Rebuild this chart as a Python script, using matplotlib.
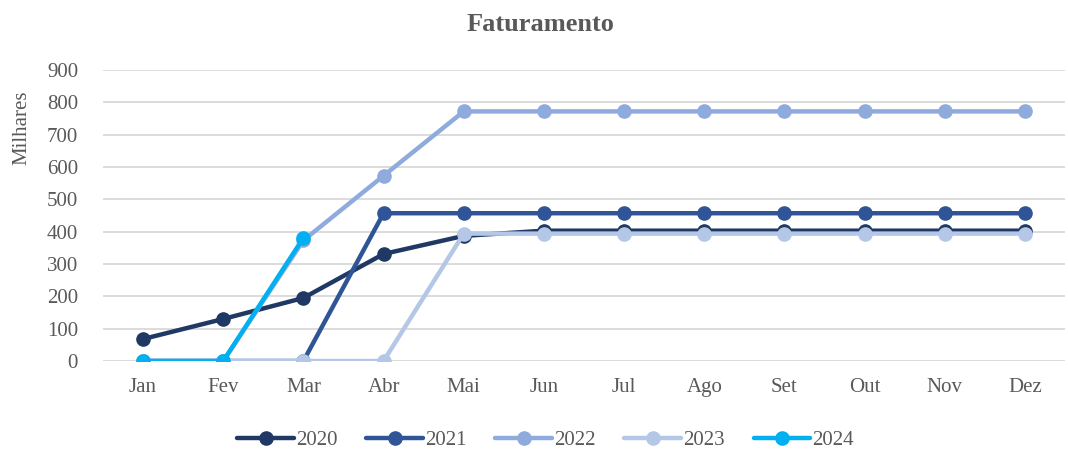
import numpy as np
import matplotlib.pyplot as plt

months = ['Jan', 'Fev', 'Mar', 'Abr', 'Mai', 'Jun', 'Jul', 'Ago', 'Set', 'Out', 'Nov', 'Dez']
v2020 = [68, 130, 195, 331, 387, 403, 403, 403, 403, 403, 403, 403]
v2021 = [0, 0, 0, 457, 457, 457, 457, 457, 457, 457, 457, 457]
v2022 = [0, 0, 373, 573, 772, 772, 772, 772, 772, 772, 772, 772]
v2023 = [0, 0, 0, 0, 394, 394, 394, 394, 394, 394, 394, 394]
v2024 = [0, 0, 381]
series = [('2020', v2020, '#203864'), ('2021', v2021, '#2f5597'),
          ('2022', v2022, '#8faadc'), ('2023', v2023, '#b4c7e7'),
          ('2024', v2024, '#00b0f0')]

plt.rcParams['font.family'] = ['Liberation Serif', 'DejaVu Serif']
txt = '#595959'

fig = plt.figure(figsize=(10.68, 4.51), dpi=100)
ax = fig.add_axes([103/1068, 90/451, 962/1068, 291/451])

x = np.arange(len(months))
for name, vals, col in series:
    ax.plot(x[:len(vals)], vals, color=col, lw=3.2, marker='o', ms=9.5,
            solid_capstyle='round', label=name)

ax.set_xlim(-0.5, 11.5)
ax.set_ylim(0, 900)
ax.set_yticks(range(0, 901, 100))
ax.set_xticks(x)
ax.set_xticklabels(months)
ax.grid(axis='y', color='#d9d9d9', lw=1.3)
ax.set_axisbelow(True)
for s in ax.spines.values():
    s.set_visible(False)
ax.tick_params(length=0, labelsize=15, colors=txt)
ax.tick_params(axis='y', pad=18)
ax.tick_params(axis='x', pad=12)
ax.set_ylabel('Milhares', fontsize=15, color=txt)
ax.yaxis.set_label_coords(-0.074, 0.8)

fig.suptitle('Faturamento', x=0.506, y=0.972, fontsize=19, fontweight='bold', color=txt)
ax.legend(loc='center', bbox_to_anchor=(0.46, -0.272), ncol=5, frameon=False,
          fontsize=15, labelcolor=txt, handlelength=2.7, handletextpad=0.1,
          columnspacing=1.4)

fig.savefig('out.png', dpi=100)
